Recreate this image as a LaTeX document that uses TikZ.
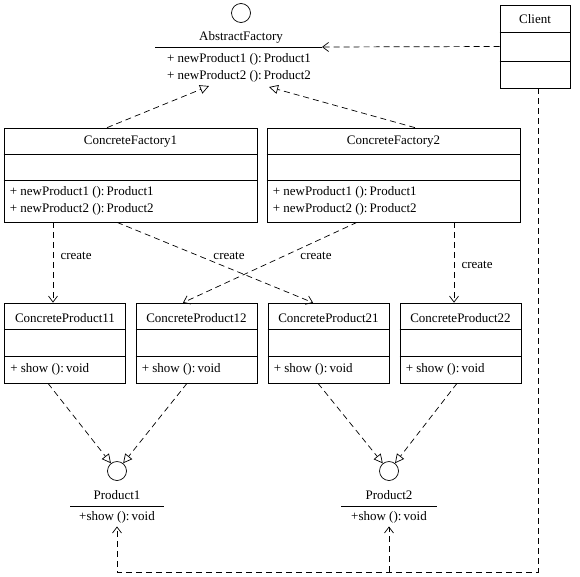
\documentclass[tikz,border=0pt]{standalone}
\usepackage{fontspec}
\setmainfont{Liberation Serif}
\usetikzlibrary{arrows.meta,positioning}
\tikzset{
  classbox/.style = {draw, line width=0.7pt, inner sep=0pt},
  iface/.style = {circle, draw, line width=0.7pt, minimum size=19pt, inner sep=0pt},
  dep/.style = {line width=0.7pt, dash pattern=on 6pt off 4pt,
    -{Straight Barb[length=6pt, width=9pt]}},
  realize/.style = {line width=0.7pt, dash pattern=on 6pt off 4pt,
    -{Triangle[open, length=9pt, width=9pt]}}
}
\begin{document}
\begin{tikzpicture}[x=1pt, y=-1pt, font=\fontsize{13}{17}\selectfont]
			\useasboundingbox (0,0) rectangle (580,576);
			% abstract factory
			\node[iface] (af) at (241,13) {};
			\node (afname) at (241,37) {AbstractFactory};
			\coordinate (afl) at (155,47);
			\coordinate (afr) at (322,47);
			\draw[line width=0.7pt] (afl) -- (afr);
			\node[align=left, anchor=north] (afops) at (239,50)
				{+ newProduct1 ():\,Product1\\+ newProduct2 ():\,Product2};
			\coordinate (afin1) at (209,86);
			\coordinate (afin2) at (269,87);
			% client
			\node[classbox, minimum width=70pt, minimum height=83pt] (client) at (535,46.5) {};
			\node at ([yshift=-14pt]client.north) {Client};
			\draw[line width=0.7pt]
				([yshift=-28pt]client.north west) -- ([yshift=-28pt]client.north east)
				([yshift=-57pt]client.north west) -- ([yshift=-57pt]client.north east);
			% concrete factories
			\foreach \n/\x in {1/130.5, 2/393.5} {
				\node[classbox, minimum width=253pt, minimum height=94pt] (cf\n) at (\x,175) {};
				\node at ([yshift=-14pt]cf\n.north) {ConcreteFactory\n};
				\draw[line width=0.7pt]
					([yshift=-27pt]cf\n.north west) -- ([yshift=-27pt]cf\n.north east)
					([yshift=-53pt]cf\n.north west) -- ([yshift=-53pt]cf\n.north east);
				\node[align=left, anchor=west, inner sep=0pt] (cfops\n) at ([xshift=6pt, yshift=-73.5pt]cf\n.north west)
					{+ newProduct1 ():\,Product1\\+ newProduct2 ():\,Product2};
			}
			% concrete products
			\foreach \n/\x in {11/65, 12/196.5, 21/328.5, 22/460.5} {
				\node[classbox, minimum width=121pt, minimum height=80pt] (cp\n) at (\x,343) {};
				\node at ([yshift=-15pt]cp\n.north) {ConcreteProduct\n};
				\draw[line width=0.7pt]
					([yshift=-27pt]cp\n.north west) -- ([yshift=-27pt]cp\n.north east)
					([yshift=-54pt]cp\n.north west) -- ([yshift=-54pt]cp\n.north east);
				\node[anchor=west, inner sep=0pt] at ([xshift=6pt, yshift=-67pt]cp\n.north west) {+ show ():\,void};
			}
			% product interfaces
			\node[iface] (p1) at (117,471) {};
			\node (p1name) at (117,495) {Product1};
			\draw[line width=0.7pt] (70,506) -- (164,506);
			\node (p1ops) at (117,517) {+show ():\,void};
			\node[iface] (p2) at (389,471) {};
			\node (p2name) at (389,495) {Product2};
			\draw[line width=0.7pt] (341,506) -- (437,506);
			\node (p2ops) at (389,517) {+show ():\,void};
			% realizations
			\draw[realize] (cf1.north -| 107,0) -- (afin1);
			\draw[realize] (cf2.north -| 415,0) -- (afin2);
			\draw[realize] (cp11.south -| 48,0) -- (p1);
			\draw[realize] (cp12.south -| 187,0) -- (p1);
			\draw[realize] (cp21.south -| 318,0) -- (p2);
			\draw[realize] (cp22.south -| 457,0) -- (p2);
			% create
			\draw[dep] (cf1.south -| 53,0) -- (cp11.north -| 53,0);
			\draw[dep] (cf1.south -| 117,0) -- (cp21.north -| 313,0);
			\draw[dep] (cf2.south -| 357,0) -- (cp12.north -| 183,0);
			\draw[dep] (cf2.south -| 454,0) -- (cp22.north -| 454,0);
			\node[anchor=west] at (57,256) {create};
			\node at (229,256) {create};
			\node at (316,256) {create};
			\node[anchor=west] at (458,265) {create};
			% client uses
			\draw[dep] (client.west) -- (afr);
			\coordinate (cbot) at (538,572);
			\draw[dep] (client.south -| cbot) -- (cbot) -| (p1ops.south);
			\draw[dep] (p2ops.south |- cbot) -- (p2ops.south);
\end{tikzpicture}
\end{document}
